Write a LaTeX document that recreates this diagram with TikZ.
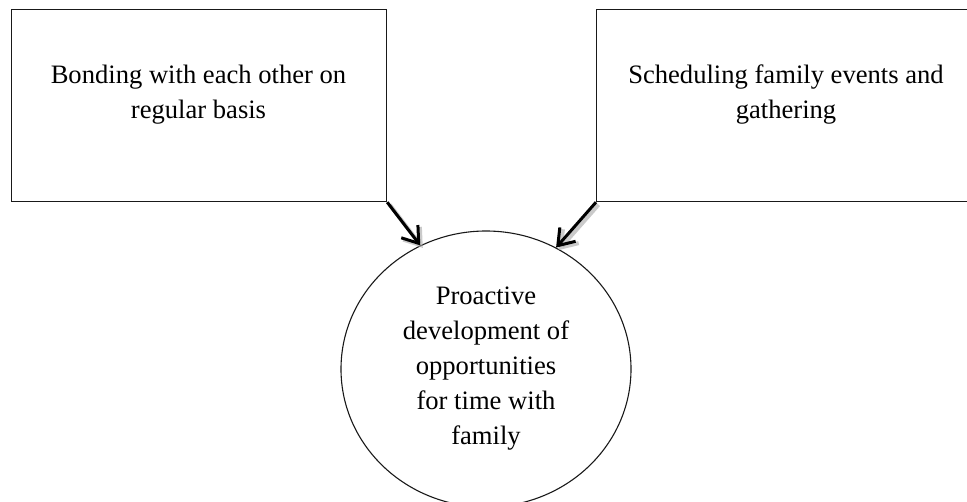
\documentclass[tikz,border=0pt]{standalone}
\usepackage{fontspec}
\setmainfont{Liberation Serif}
\usetikzlibrary{arrows.meta,shapes.geometric}
\begin{document}
\begin{tikzpicture}[x=1pt,y=1pt,
  box/.style={draw=black!90, line width=1.2pt, rectangle, inner sep=0pt, anchor=north west},
  boxtext/.style={align=center, inner sep=0pt, anchor=north,
    font=\fontsize{26.6}{34.5}\selectfont},
  goal/.style={draw=black!90, ellipse, line width=1.1pt, inner sep=0pt,
    minimum width=290pt, minimum height=276pt, align=center,
    font=\fontsize{26.6}{35}\selectfont},
  link/.style={line width=3pt, -{Straight Barb[length=15pt,width=21pt]}},
  linkshadow/.style={link, line width=4pt, draw=black!35, opacity=0.6}
]
\useasboundingbox (0,0) rectangle (967,-501);
\clip (0,0) rectangle (967,-501);

% the two source boxes
\node[box, minimum width=375pt, minimum height=192pt] (b1) at (11,-9) {};
\node[box, minimum width=380pt, minimum height=192pt] (b2) at (596,-9) {};
\node[boxtext] (t1) at (198.5,-65) {Bonding with each other on\\regular basis};
\node[boxtext] (t2) at (786,-65) {Scheduling family events and\\gathering};

% the goal
\node[goal] (g) at (486,-369) {Proactive\\development of\\opportunities\\for time with\\family};

% soft shadows of the connectors
\draw[linkshadow, transform canvas={shift={(2.5pt,-2.5pt)}}] (b1.south east) -- (g.118.4);
\draw[linkshadow, transform canvas={shift={(2.5pt,-2.5pt)}}] (b2.south west) -- (g.60.3);
% connectors
\draw[link] (b1.south east) -- (g.118.4);
\draw[link] (b2.south west) -- (g.60.3);
\end{tikzpicture}
\end{document}
